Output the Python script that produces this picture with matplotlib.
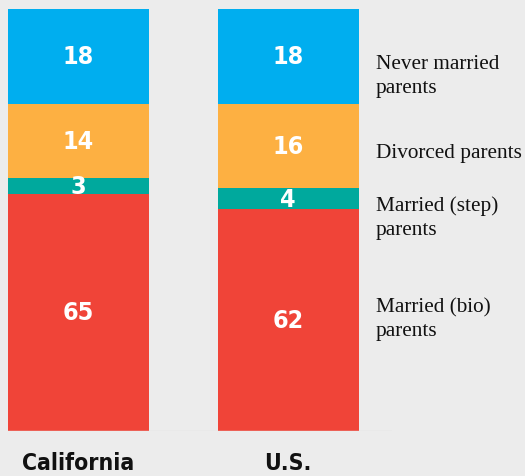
import matplotlib.pyplot as plt
from matplotlib import font_manager
import numpy as np

# family structure of children, percent
groups = ["California", "U.S."]
married_bio = [65, 62]
married_step = [3, 4]
divorced = [14, 16]
never_married = [18, 18]

series = [married_bio, married_step, divorced, never_married]
series_labels = ["Married (bio)\nparents", "Married (step)\nparents",
                 "Divorced parents", "Never married\nparents"]
colors = ["#F04438", "#00A99D", "#FDB042", "#00AEEF"]

bg = "#ececec"
W, H = 525, 477
y_floor = 20  # axis does not start at zero in the original

# look for a condensed sans on the system
cond = None
for f in font_manager.fontManager.ttflist:
    if "Condensed" in f.fname and "DejaVuSans" in f.fname and "Bold" in f.fname \
            and "Oblique" not in f.fname:
        cond = f.fname
        break
if cond:
    num_font = dict(fontproperties=font_manager.FontProperties(fname=cond))
else:
    num_font = dict(family="DejaVu Sans", fontweight="bold")

fig = plt.figure(figsize=(W / 100, H / 100), dpi=100, facecolor=bg)
ax = fig.add_axes([8 / W, 45 / H, 384 / W, 422 / H])
ax.set_facecolor(bg)

x = np.arange(len(groups))
width = 0.673
bottom = np.zeros(len(groups))
for vals, col in zip(series, colors):
    vals = np.array(vals, dtype=float)
    ax.bar(x, vals, width, bottom=bottom, color=col, linewidth=0)
    for xi, b, v in zip(x, bottom, vals):
        yc = (max(b, y_floor) + b + v) / 2
        t = ax.text(xi, yc, f"{int(v)}", ha="center", va="center", color="white",
                    **num_font)
        t.set_fontsize(18)
    bottom += vals

ax.axhline(y_floor, color="#dedede", linewidth=1)
ax.set_ylim(y_floor, 100)
ax.set_xlim(-0.3365, 1.496)
ax.axis("off")

for xi, g in zip(x, groups):
    t = ax.text(xi, -0.075, g, transform=ax.get_xaxis_transform(), ha="center",
                va="center", color="#111111", **num_font)
    t.set_fontsize(16.5)

# labels on the right, baseline of last line in pixels from top
label_y = [336, 235, 158, 93]
for lab, yy in zip(series_labels, label_y):
    fig.text(376 / W, 1 - yy / H, lab, ha="left", va="baseline",
             fontsize=15.3, color="#111111", linespacing=1.35,
             family=["Liberation Serif", "DejaVu Serif"])

fig.savefig("out.png", dpi=100, facecolor=bg)
